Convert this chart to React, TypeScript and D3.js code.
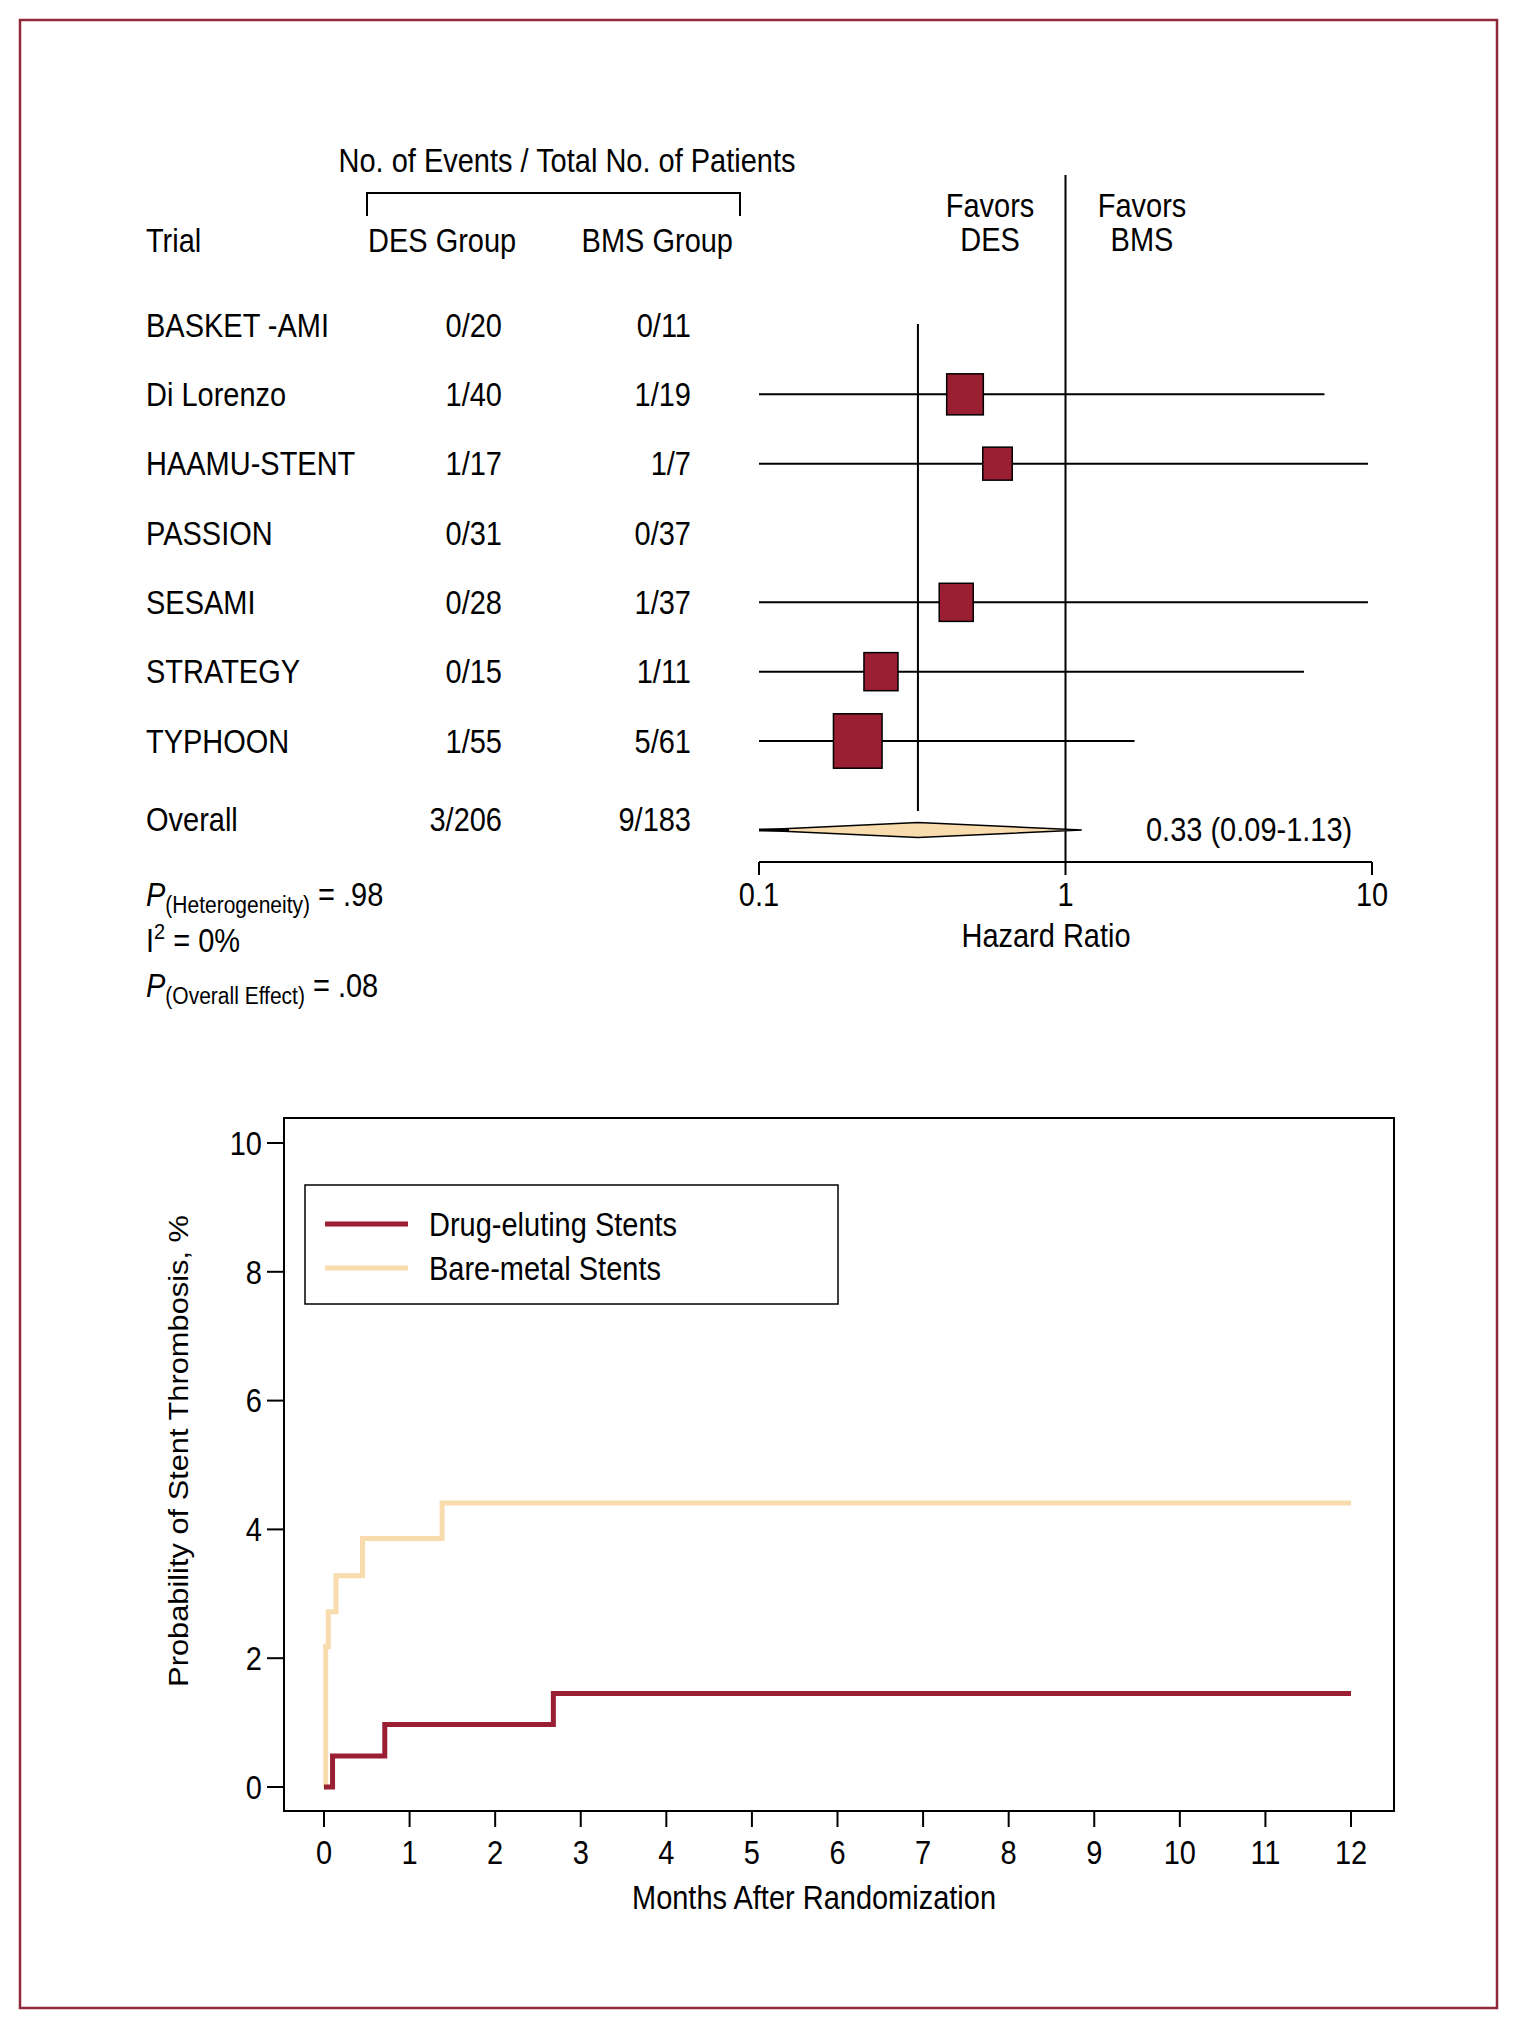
import React from 'react';
import * as d3 from 'd3';

// forest plot rows
const TRIALS = ['BASKET -AMI', 'Di Lorenzo', 'HAAMU-STENT', 'PASSION', 'SESAMI', 'STRATEGY', 'TYPHOON'];
const DES_COUNTS = ['0/20', '1/40', '1/17', '0/31', '0/28', '0/15', '1/55'];
const BMS_COUNTS = ['0/11', '1/19', '1/7', '0/37', '1/37', '1/11', '5/61'];
const HR = [null, 0.47, 0.6, null, 0.44, 0.25, 0.21];
const CI_LOW = [null, 0.03, 0.04, null, 0.02, 0.01, 0.03];
const CI_HIGH = [null, 7.0, 9.7, null, 9.7, 6.0, 1.68];
const WEIGHTS = [0, 19.5, 12.6, 0, 16.8, 16.8, 34.3];
const OVERALL_COUNTS = ['3/206', '9/183'];
const OVERALL_HR = [0.09, 0.33, 1.13]; // low, estimate, high
const HR_TICKS = [0.1, 1, 10];

// Kaplan-Meier curves
const MONTH_TICKS = [0, 1, 2, 3, 4, 5, 6, 7, 8, 9, 10, 11, 12];
const PROB_TICKS = [0, 2, 4, 6, 8, 10];
const DES_TIME = [0, 0.1, 0.71, 2.68, 12];
const DES_PROB = [0, 0.48, 0.97, 1.45, 1.45];
const BMS_TIME = [0, 0.02, 0.05, 0.14, 0.45, 1.38, 12];
const BMS_PROB = [0, 2.18, 2.72, 3.28, 3.86, 4.41, 4.41];

const FONT = "'Liberation Sans', Arial, Helvetica, sans-serif";
const SY = 1.12; // text in the original is slightly stretched vertically
const RED = '#9a1f33';
const PEACH = '#f8dcae';

const T = ({ x, y, anchor = 'start', size = 29, children }: any) => (
  <text
    transform={`translate(${x},${y}) scale(1,${SY})`}
    textAnchor={anchor}
    dy="0.36em"
    fontSize={size}
    fontFamily={FONT}
    fill="#000"
  >
    {children}
  </text>
);

const App = () => {
  const width = 1516;
  const height = 2029;

  // forest scales
  const hrX = d3.scaleLog().domain([0.1, 10]).range([759, 1372]).clamp(true);
  const rowY = d3.scaleLinear().domain([0, TRIALS.length - 1]).range([325, 741]);
  const boxW = d3.scaleSqrt().domain([0, d3.max(WEIGHTS)]).range([0, 48.6]);
  const overallTextY = 819;
  const diamondY = 830;
  const axisY = 862;

  // KM scales
  const mx = d3.scaleLinear().domain([0, 12]).range([324, 1351]);
  const py = d3.scaleLinear().domain([0, 10]).range([1787, 1143]);
  const box = { left: 284, right: 1394, top: 1118, bottom: 1811 };
  const line = d3.line<number[]>()
    .x(d => mx(d[0]))
    .y(d => py(d[1]))
    .curve(d3.curveStepAfter);
  const desPts = DES_TIME.map((t, i) => [t, DES_PROB[i]]);
  const bmsPts = BMS_TIME.map((t, i) => [t, BMS_PROB[i]]);

  const [oLo, oEst, oHi] = OVERALL_HR;
  const dh = 7.6;
  const diamond = `M${hrX(oLo)},${diamondY} L${hrX(oEst)},${diamondY - dh} L${hrX(oHi)},${diamondY} L${hrX(oEst)},${diamondY + dh} Z`;

  return (
    <svg width={width} height={height} style={{ position: 'absolute', left: 0, top: 0, background: '#fff' }}>
      <rect x={20} y={20} width={1477} height={1988} fill="#fff" stroke="#8e2a3b" strokeWidth={2.5} />

      {/* ---------- forest plot ---------- */}
      <T x={567} y={160} anchor="middle">No. of Events / Total No. of Patients</T>
      <path d="M367,216 V193 H740 V216" fill="none" stroke="#000" strokeWidth={2} />
      <T x={146} y={240}>Trial</T>
      <T x={368} y={240}>DES Group</T>
      <T x={733} y={240} anchor="end">BMS Group</T>
      <T x={990} y={205} anchor="middle">Favors</T>
      <T x={990} y={239} anchor="middle">DES</T>
      <T x={1142} y={205} anchor="middle">Favors</T>
      <T x={1142} y={239} anchor="middle">BMS</T>

      <line x1={hrX(1)} x2={hrX(1)} y1={175} y2={axisY} stroke="#000" strokeWidth={2} />
      <line x1={hrX(oEst)} x2={hrX(oEst)} y1={324} y2={811} stroke="#000" strokeWidth={2} />

      {TRIALS.map((t, i) => (
        <g key={t}>
          <T x={146} y={rowY(i)}>{t}</T>
          <T x={502} y={rowY(i)} anchor="end">{DES_COUNTS[i]}</T>
          <T x={691} y={rowY(i)} anchor="end">{BMS_COUNTS[i]}</T>
          {HR[i] != null && (
            <g>
              <line x1={hrX(CI_LOW[i])} x2={hrX(CI_HIGH[i])} y1={rowY(i)} y2={rowY(i)} stroke="#000" strokeWidth={2} />
              <rect
                x={hrX(HR[i]) - boxW(WEIGHTS[i]) / 2}
                y={rowY(i) - (boxW(WEIGHTS[i]) * SY) / 2}
                width={boxW(WEIGHTS[i])}
                height={boxW(WEIGHTS[i]) * SY}
                fill={RED}
                stroke="#000"
                strokeWidth={1.5}
              />
            </g>
          )}
        </g>
      ))}

      <T x={146} y={overallTextY}>Overall</T>
      <T x={502} y={overallTextY} anchor="end">{OVERALL_COUNTS[0]}</T>
      <T x={691} y={overallTextY} anchor="end">{OVERALL_COUNTS[1]}</T>
      <path d={diamond} fill={PEACH} stroke="#000" strokeWidth={1.5} />
      <line x1={hrX(oLo)} x2={hrX(oLo) + 30} y1={diamondY} y2={diamondY} stroke="#000" strokeWidth={3} />
      <T x={1146} y={829}>{`${oEst} (${oLo}-${oHi})`}</T>

      {/* HR axis */}
      <line x1={hrX(0.1)} x2={hrX(10)} y1={axisY} y2={axisY} stroke="#000" strokeWidth={2} />
      {HR_TICKS.map(t => (
        <g key={t}>
          <line x1={hrX(t)} x2={hrX(t)} y1={axisY} y2={axisY + 13} stroke="#000" strokeWidth={2} />
          <T x={hrX(t)} y={894} anchor="middle">{String(t)}</T>
        </g>
      ))}
      <T x={1046} y={935} anchor="middle">Hazard Ratio</T>

      {/* stats */}
      <text transform={`translate(146,894) scale(1,${SY})`} fontSize={29} fontFamily={FONT}>
        <tspan y={10.4} fontStyle="italic">P</tspan>
        <tspan dy={7} fontSize={21}>(Heterogeneity)</tspan>
        <tspan dy={-7}> = .98</tspan>
      </text>
      <text transform={`translate(146,940) scale(1,${SY})`} fontSize={29} fontFamily={FONT}>
        <tspan y={10.4}>I</tspan>
        <tspan dy={-11} fontSize={20}>2</tspan>
        <tspan dy={11}> = 0%</tspan>
      </text>
      <text transform={`translate(146,985) scale(1,${SY})`} fontSize={29} fontFamily={FONT}>
        <tspan y={10.4} fontStyle="italic">P</tspan>
        <tspan dy={7} fontSize={21}>(Overall Effect)</tspan>
        <tspan dy={-7}> = .08</tspan>
      </text>

      {/* ---------- Kaplan-Meier ---------- */}
      <rect x={box.left} y={box.top} width={box.right - box.left} height={box.bottom - box.top} fill="none" stroke="#000" strokeWidth={2} />
      {PROB_TICKS.map(t => (
        <g key={t}>
          <line x1={box.left - 17} x2={box.left} y1={py(t)} y2={py(t)} stroke="#000" strokeWidth={2} />
          <T x={262} y={py(t)} anchor="end">{t}</T>
        </g>
      ))}
      {MONTH_TICKS.map(t => (
        <g key={t}>
          <line x1={mx(t)} x2={mx(t)} y1={box.bottom} y2={box.bottom + 16} stroke="#000" strokeWidth={2} />
          <T x={mx(t)} y={1852} anchor="middle">{t}</T>
        </g>
      ))}
      <T x={814} y={1897} anchor="middle">Months After Randomization</T>
      <text
        transform={`translate(188,1451) scale(1,${SY}) rotate(-90)`}
        textAnchor="middle"
        fontSize={27.5}
        fontFamily={FONT}
      >
        Probability of Stent Thrombosis, %
      </text>

      <path d={line(bmsPts)} fill="none" stroke={PEACH} strokeWidth={5} />
      <path d={line(desPts)} fill="none" stroke={RED} strokeWidth={5} />

      {/* legend */}
      <rect x={305} y={1185} width={533} height={119} fill="#fff" stroke="#000" strokeWidth={1.5} />
      <line x1={325} x2={408} y1={1224} y2={1224} stroke={RED} strokeWidth={5} />
      <line x1={325} x2={408} y1={1268} y2={1268} stroke={PEACH} strokeWidth={5} />
      <T x={429} y={1224}>Drug-eluting Stents</T>
      <T x={429} y={1268}>Bare-metal Stents</T>
    </svg>
  );
};

export default App;
